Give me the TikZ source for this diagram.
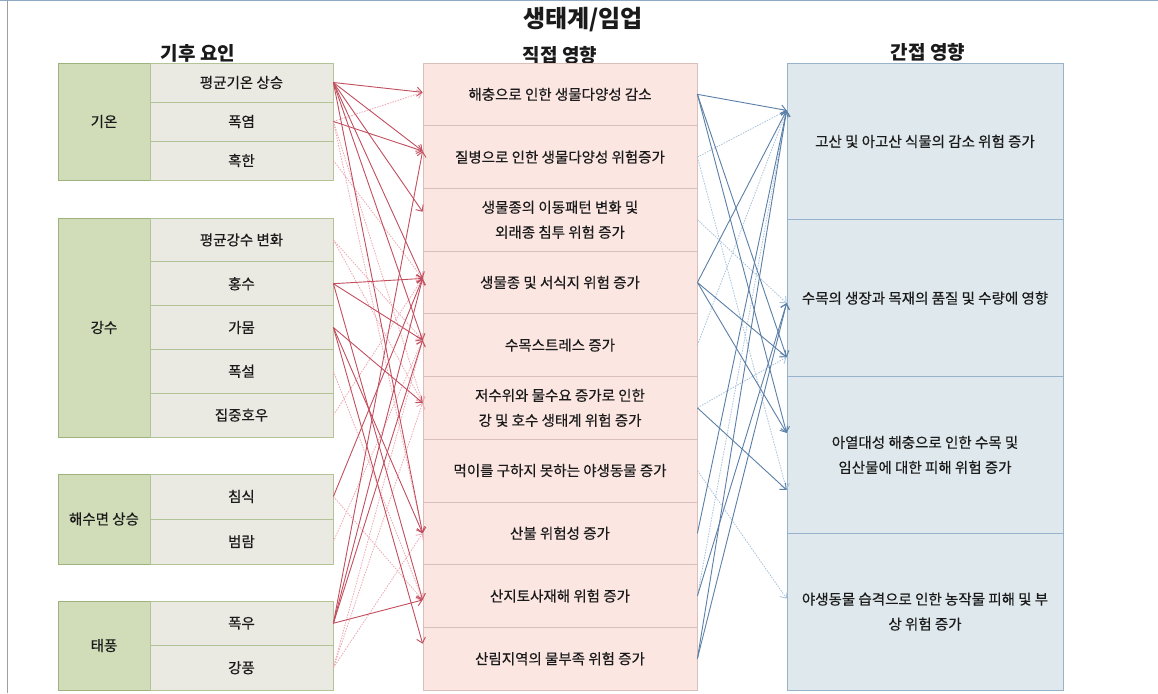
\documentclass[tikz,border=0pt]{standalone}
\usepackage{fontspec}
\setmainfont{Noto Sans CJK KR}
\newfontfamily\cellf{Noto Sans CJK KR}[FakeBold=0.4]
\usetikzlibrary{arrows.meta,calc}
\definecolor{grnF}{HTML}{D1DDB9}
\definecolor{grnB}{HTML}{9DB27C}
\definecolor{subF}{HTML}{EAEAE2}
\definecolor{subB}{HTML}{B3C398}
\definecolor{midF}{HTML}{FBE6E2}
\definecolor{midB}{HTML}{D9BFBB}
\definecolor{rgtF}{HTML}{DFE8EC}
\definecolor{rgtB}{HTML}{97B3CC}
\definecolor{redS}{HTML}{C24E5E}
\definecolor{redD}{HTML}{EDA8B3}
\definecolor{bluS}{HTML}{5B7FA6}
\definecolor{bluD}{HTML}{A9C3DA}
\definecolor{txt}{HTML}{1A1A1A}
\definecolor{frameT}{HTML}{8FA9C4}
\tikzset{
  grp/.style={draw=grnB, fill=grnF, line width=0.8, minimum width=92, inner sep=0, text=txt, font=\cellf\fontsize{14.5}{17}\selectfont},
  sub/.style={draw=subB, fill=subF, line width=0.8, minimum width=183, inner sep=0, text=txt, font=\cellf\fontsize{14.5}{17}\selectfont},
  mid/.style={draw=midB, fill=midF, line width=0.8, minimum width=274, minimum height=62.7, inner sep=0, align=center, text=txt, font=\cellf\fontsize{14.5}{25}\selectfont},
  rgt/.style={draw=rgtB, fill=rgtF, line width=0.8, minimum width=276, minimum height=156.75, inner sep=0, align=center, text=txt, font=\cellf\fontsize{14.5}{25}\selectfont},
  hdr/.style={font=\fontsize{19}{21}\selectfont\bfseries, text=txt, inner sep=0},
  rs/.style={draw=redS, line width=0.9, -{Straight Barb[length=5pt,width=9pt,color=redS]}},
  rd/.style={draw=redD, line width=0.8, dash pattern=on 1.5pt off 1.2pt, -{Straight Barb[length=5pt,width=9pt,color=redD]}},
  bs/.style={draw=bluS, line width=0.9, -{Straight Barb[length=5pt,width=9pt,color=bluS]}},
  bd/.style={draw=bluD, line width=0.8, dash pattern=on 1.5pt off 1.2pt, -{Straight Barb[length=5pt,width=9pt,color=bluD]}},
}
\begin{document}
\begin{tikzpicture}[x=1pt,y=-1pt]
\useasboundingbox (0,0) rectangle (1158,693);
\fill[white] (0,0) rectangle (1158,693);
\draw[frameT, line width=1.4] (0,0.7) -- (1158,0.7);
\draw[gray!75, line width=1] (7,0) -- (7,693);

\node[hdr, font=\fontsize{24}{26}\selectfont\bfseries] (title) at (583,20) {생태계/임업};
\node[hdr] (h1) at (198,53) {기후 요인};
\node[hdr] (h2) at (560,55) {직접 영향};
\node[hdr] (h3) at (928,52) {간접 영향};

% climate factors
\node[grp, minimum height=117] (G1) at (104,121.5) {기온};
\node[sub, minimum height=39] (T1) at (241.5,82.5) {평균기온 상승};
\node[sub, minimum height=39] (T2) at (241.5,121.5) {폭염};
\node[sub, minimum height=39] (T3) at (241.5,160.5) {혹한};

\node[grp, minimum height=219] (G2) at (104,327.5) {강수};
\node[sub, minimum height=43.8] (P1) at (241.5,239.9) {평균강수 변화};
\node[sub, minimum height=43.8] (P2) at (241.5,283.7) {홍수};
\node[sub, minimum height=43.8] (P3) at (241.5,327.5) {가뭄};
\node[sub, minimum height=43.8] (P4) at (241.5,371.3) {폭설};
\node[sub, minimum height=43.8] (P5) at (241.5,415.1) {집중호우};

\node[grp, minimum height=90] (G3) at (104,519) {해수면 상승};
\node[sub, minimum height=45] (S1) at (241.5,496.5) {침식};
\node[sub, minimum height=45] (S2) at (241.5,541.5) {범람};

\node[grp, minimum height=89] (G4) at (104,645.5) {태풍};
\node[sub, minimum height=44.5] (Y1) at (241.5,623.25) {폭우};
\node[sub, minimum height=44.5] (Y2) at (241.5,667.75) {강풍};

% direct impacts
\node[mid] (D1) at (560,94.35) {해충으로 인한 생물다양성 감소};
\node[mid] (D2) at (560,157.05) {질병으로 인한 생물다양성 위험증가};
\node[mid] (D3) at (560,219.75) {생물종의 이동패턴 변화 및\\외래종 침투 위험 증가};
\node[mid] (D4) at (560,282.45) {생물종 및 서식지 위험 증가};
\node[mid] (D5) at (560,345.15) {수목스트레스 증가};
\node[mid] (D6) at (560,407.85) {저수위와 물수요 증가로 인한\\강 및 호수 생태계 위험 증가};
\node[mid] (D7) at (560,470.55) {먹이를 구하지 못하는 야생동물 증가};
\node[mid] (D8) at (560,533.25) {산불 위험성 증가};
\node[mid] (D9) at (560,595.95) {산지토사재해 위험 증가};
\node[mid] (D10) at (560,658.65) {산림지역의 물부족 위험 증가};

% indirect impacts
\node[rgt] (R1) at (925,141.4) {고산 및 아고산 식물의 감소 위험 증가};
\node[rgt] (R2) at (925,298.1) {수목의 생장과 목재의 품질 및 수량에 영향};
\node[rgt] (R3) at (925,454.9) {아열대성 해충으로 인한 수목 및\\임산물에 대한 피해 위험 증가};
\node[rgt] (R4) at (925,611.6) {야생동물 습격으로 인한 농작물 피해 및 부\\상 위험 증가};

% red connectors (faint dotted)
\draw[rd] (T2.east) -- ($(D1.west)+(0,-2)$);
\draw[rd] (T2.east) -- ($(D6.west)+(0,-5)$);
\draw[rd] (T2.east) -- (D8.west);
\draw[rd] (T3.east) -- ($(D4.west)+(0,-4)$);
\draw[rd] (P1.east) -- ($(D5.west)+(0,-5)$);
\draw[rd] (P1.east) -- ($(D6.west)+(0,-5)$);
\draw[rd] (P4.east) -- ($(D9.west)+(0,4)$);
\draw[rd] (P5.east) -- ($(D4.west)+(0,-4)$);
\draw[rd] (S1.east) -- ($(D9.west)+(0,4)$);
\draw[rd] (S2.east) -- ($(D5.west)+(0,-5)$);
\draw[rd] (Y2.east) -- (D8.west);
\draw[rd] (Y2.east) -- ($(D5.west)+(0,-5)$);
\draw[rd] (Y2.east) -- ($(D6.west)+(0,-5)$);

% red connectors (solid)
\draw[rs] (T1.east) -- ($(D1.west)+(0,-2)$);
\draw[rs] (T1.east) -- ($(D2.west)+(0,-6)$);
\draw[rs] (T1.east) -- ($(D3.west)+(0,-8)$);
\draw[rs] (T1.east) -- ($(D4.west)+(0,-4)$);
\draw[rs] (T1.east) -- ($(D5.west)+(0,-5)$);
\draw[rs] (T1.east) -- (D8.west);
\draw[rs] (T2.east) -- ($(D2.west)+(0,-6)$);
\draw[rs] (P2.east) -- ($(D4.west)+(0,-4)$);
\draw[rs] (P2.east) -- ($(D5.west)+(0,-5)$);
\draw[rs] (P2.east) -- ($(D9.west)+(0,4)$);
\draw[rs] (P3.east) -- ($(D6.west)+(0,-5)$);
\draw[rs] (P3.east) -- (D8.west);
\draw[rs] (P3.east) -- ($(D10.west)+(0,-15)$);
\draw[rs] (S1.east) -- ($(D4.west)+(0,-4)$);
\draw[rs] (Y1.east) -- ($(D2.west)+(0,-6)$);
\draw[rs] (Y1.east) -- ($(D4.west)+(0,-4)$);
\draw[rs] (Y1.east) -- ($(D5.west)+(0,-5)$);
\draw[rs] (Y1.east) -- ($(D9.west)+(0,4)$);

% blue connectors (faint)
\draw[bd] (D2.east) -- ($(R1.west)+(0,-31)$);
\draw[bd] (D2.east) -- ($(R3.west)+(0,35)$);
\draw[bd] (D3.east) -- ($(R2.west)+(0,5)$);
\draw[bd] (D5.east) -- ($(R1.west)+(0,-31)$);
\draw[bd] (D6.east) -- ($(R2.west)+(0,59)$);
\draw[bd] (D7.east) -- ($(R4.west)+(0,-13)$);
\draw[bd] (D9.east) -- ($(R1.west)+(0,-31)$);

% blue connectors (solid)
\draw[bs] (D1.east) -- ($(R1.west)+(0,-31)$);
\draw[bs] (D1.east) -- ($(R2.west)+(0,59)$);
\draw[bs] (D1.east) -- ($(R3.west)+(0,-22)$);
\draw[bs] (D4.east) -- ($(R1.west)+(0,-31)$);
\draw[bs] (D4.east) -- ($(R2.west)+(0,59)$);
\draw[bs] (D4.east) -- ($(R3.west)+(0,-22)$);
\draw[bs] (D6.east) -- ($(R3.west)+(0,35)$);
\draw[bs] (D8.east) -- ($(R1.west)+(0,-31)$);
\draw[bs] (D9.east) -- ($(R2.west)+(0,5)$);
\draw[bs] (D10.east) -- ($(R1.west)+(0,-31)$);
\draw[bs] (D10.east) -- ($(R2.west)+(0,5)$);
\end{tikzpicture}
\end{document}
